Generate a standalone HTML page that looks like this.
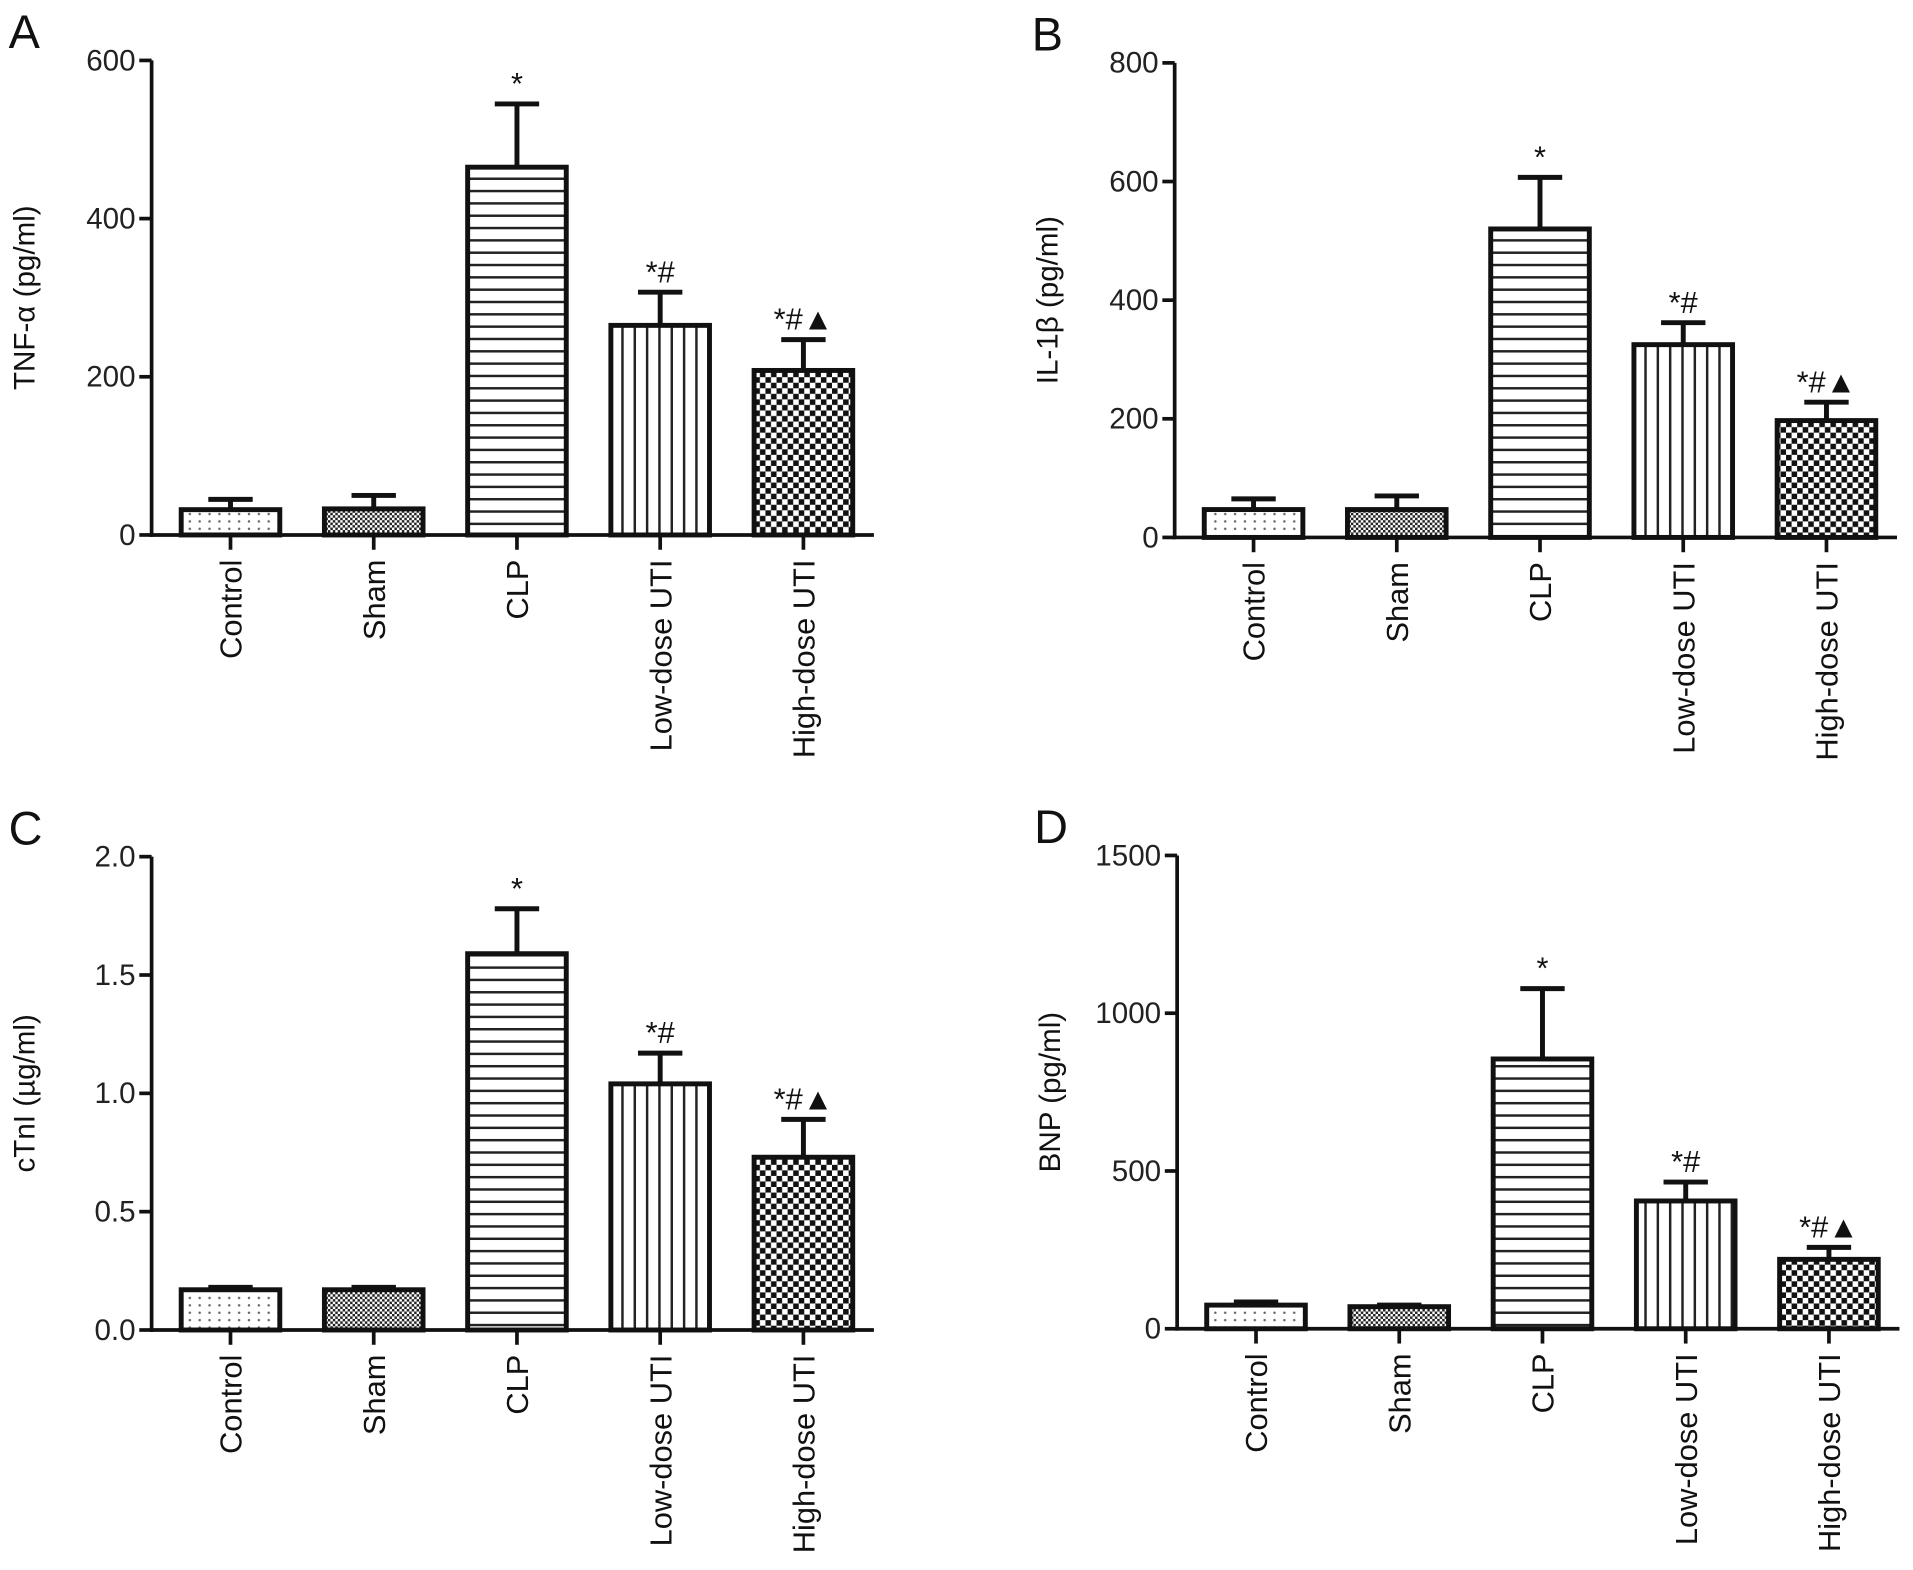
<!DOCTYPE html>
<html><head><meta charset="utf-8"><style>
html,body{margin:0;padding:0;background:#fff;}
svg{display:block;font-family:"Liberation Sans",Arial,sans-serif;}
</style></head><body>
<svg id="fig" width="1913" height="1570" viewBox="0 0 1552 1273.7" xmlns="http://www.w3.org/2000/svg">
<defs>
<pattern id="pDots" width="8" height="6" patternUnits="userSpaceOnUse"><rect width="8" height="6" fill="#fff"/><circle cx="2" cy="3" r="1" fill="#666"/></pattern>
<pattern id="pSham" width="4" height="4" patternUnits="userSpaceOnUse"><rect width="4" height="4" fill="#fff"/><rect width="2" height="2" fill="#222"/><rect x="2" y="2" width="2" height="2" fill="#222"/></pattern>
<pattern id="pHoriz" width="10" height="10" patternUnits="userSpaceOnUse"><rect width="10" height="10" fill="#fff"/><rect y="4" width="10" height="2" fill="#222"/></pattern>
<pattern id="pVert" width="10" height="10" patternUnits="userSpaceOnUse"><rect width="10" height="10" fill="#fff"/><rect x="4" width="2" height="10" fill="#222"/></pattern>
<pattern id="pCheck" width="9" height="9" patternUnits="userSpaceOnUse"><rect width="9" height="9" fill="#fff"/><rect width="4.5" height="4.5" fill="#111"/><rect x="4.5" y="4.5" width="4.5" height="4.5" fill="#111"/></pattern>
</defs>
</svg>
<script>
const categories = ["Control","Sham","CLP","Low-dose UTI","High-dose UTI"];
const sigMarks = ["","","*","*#","*#\u25B2"];
const valuesA = [32,33,465,265,208];
const errTopA = [45,50,545,307,247];
const valuesB = [47,47,520,325,197];
const errTopB = [65,70,607,362,228];
const valuesC = [0.17,0.17,1.59,1.04,0.73];
const errTopC = [0.18,0.18,1.78,1.17,0.89];
const valuesD = [75,70,855,405,220];
const errTopD = [85,75,1078,465,258];
const ticksA = [0,200,400,600];
const ticksB = [0,200,400,600,800];
const ticksC = [0,0.5,1.0,1.5,2.0];
const ticksCLabels = ["0.0","0.5","1.0","1.5","2.0"];
const ticksD = [0,500,1000,1500];
const fills = ["url(#pDots)","url(#pSham)","url(#pHoriz)","url(#pVert)","url(#pCheck)"];
const NS="http://www.w3.org/2000/svg";
const svg=document.getElementById('fig');
function mk(tag,attrs,parent){const e=document.createElementNS(NS,tag);for(const k in attrs)e.setAttribute(k,attrs[k]);(parent||svg).appendChild(e);return e;}

function panel(cfg){
  const g=mk('g',{});
  
  
  const x0=cfg.ax, xEnd=cfg.ax+586, yTop=cfg.yTop, yBot=cfg.yBot, maxV=cfg.max;
  const yS=v=>yBot-(v/maxV)*(yBot-yTop);
  const xS=i=>cfg.ax+64+i*116.2;
  const bw=80;
  const L=mk('text',{x:cfg.ax-116,y:yTop-10,'font-size':38,fill:'#111'},g);L.textContent=cfg.letter;
  
  
  cfg.values.forEach((v,i)=>{
    const cx=xS(i);
    const eb=mk('path',{d:`M${cx} ${yS(v)} V${yS(cfg.err[i])} M${cx-18} ${yS(cfg.err[i])} H${cx+18}`,stroke:'#111','stroke-width':4,fill:'none'},g);
    
    
    const r=mk('rect',{x:cx-bw/2,y:yS(v),width:bw,height:yBot-yS(v),fill:fills[i],stroke:'#111','stroke-width':4},g);
    
    
    if(sigMarks[i]){
      const t=mk('text',{x:cx,y:yS(cfg.err[i])-8,'font-size':25,'text-anchor':'middle',fill:'#111'},g);t.textContent=sigMarks[i];
      
      
    }
    const tk=mk('line',{x1:cx,y1:yBot,x2:cx,y2:yBot+12,stroke:'#111','stroke-width':3},g);
    
    
    const lb=mk('text',{transform:`translate(${cx+9},${yBot+20}) rotate(-90)`,'font-size':25,'text-anchor':'end',fill:'#111'},g);lb.textContent=categories[i];
    
    
  });
  const ya=mk('line',{x1:x0,y1:yTop,x2:x0,y2:yBot+1.5,stroke:'#111','stroke-width':3},g);
  
  
  const xa=mk('line',{x1:x0-1.5,y1:yBot,x2:xEnd,y2:yBot,stroke:'#111','stroke-width':3},g);
  
  
  cfg.ticks.forEach((t,i)=>{
    const ty=yS(t);
    const l=mk('line',{x1:x0-10,y1:ty,x2:x0,y2:ty,stroke:'#111','stroke-width':3},g);
    
    
    const tx=mk('text',{x:x0-13,y:ty+8,'font-size':24,'text-anchor':'end',fill:'#222'},g);tx.textContent=cfg.tickLabels?cfg.tickLabels[i]:t;
    
    
  });
  const yt=mk('text',{transform:`translate(${cfg.ax-95},${(yTop+yBot)/2}) rotate(-90)`,'font-size':24,'text-anchor':'middle',fill:'#111'},g);yt.textContent=cfg.title;
  
  
}
panel({letter:'A',ax:123,yTop:49,yBot:434,max:600,values:valuesA,err:errTopA,ticks:ticksA,title:'TNF-\u03B1 (pg/ml)'});
panel({letter:'B',ax:953,yTop:51,yBot:436,max:800,values:valuesB,err:errTopB,ticks:ticksB,title:'IL-1\u03B2 (pg/ml)'});
panel({letter:'C',ax:123,yTop:695,yBot:1079,max:2.0,values:valuesC,err:errTopC,ticks:ticksC,tickLabels:ticksCLabels,title:'cTnI (\u00B5g/ml)'});
panel({letter:'D',ax:955,yTop:694,yBot:1078,max:1500,values:valuesD,err:errTopD,ticks:ticksD,title:'BNP (pg/ml)'});
</script>
</body></html>
